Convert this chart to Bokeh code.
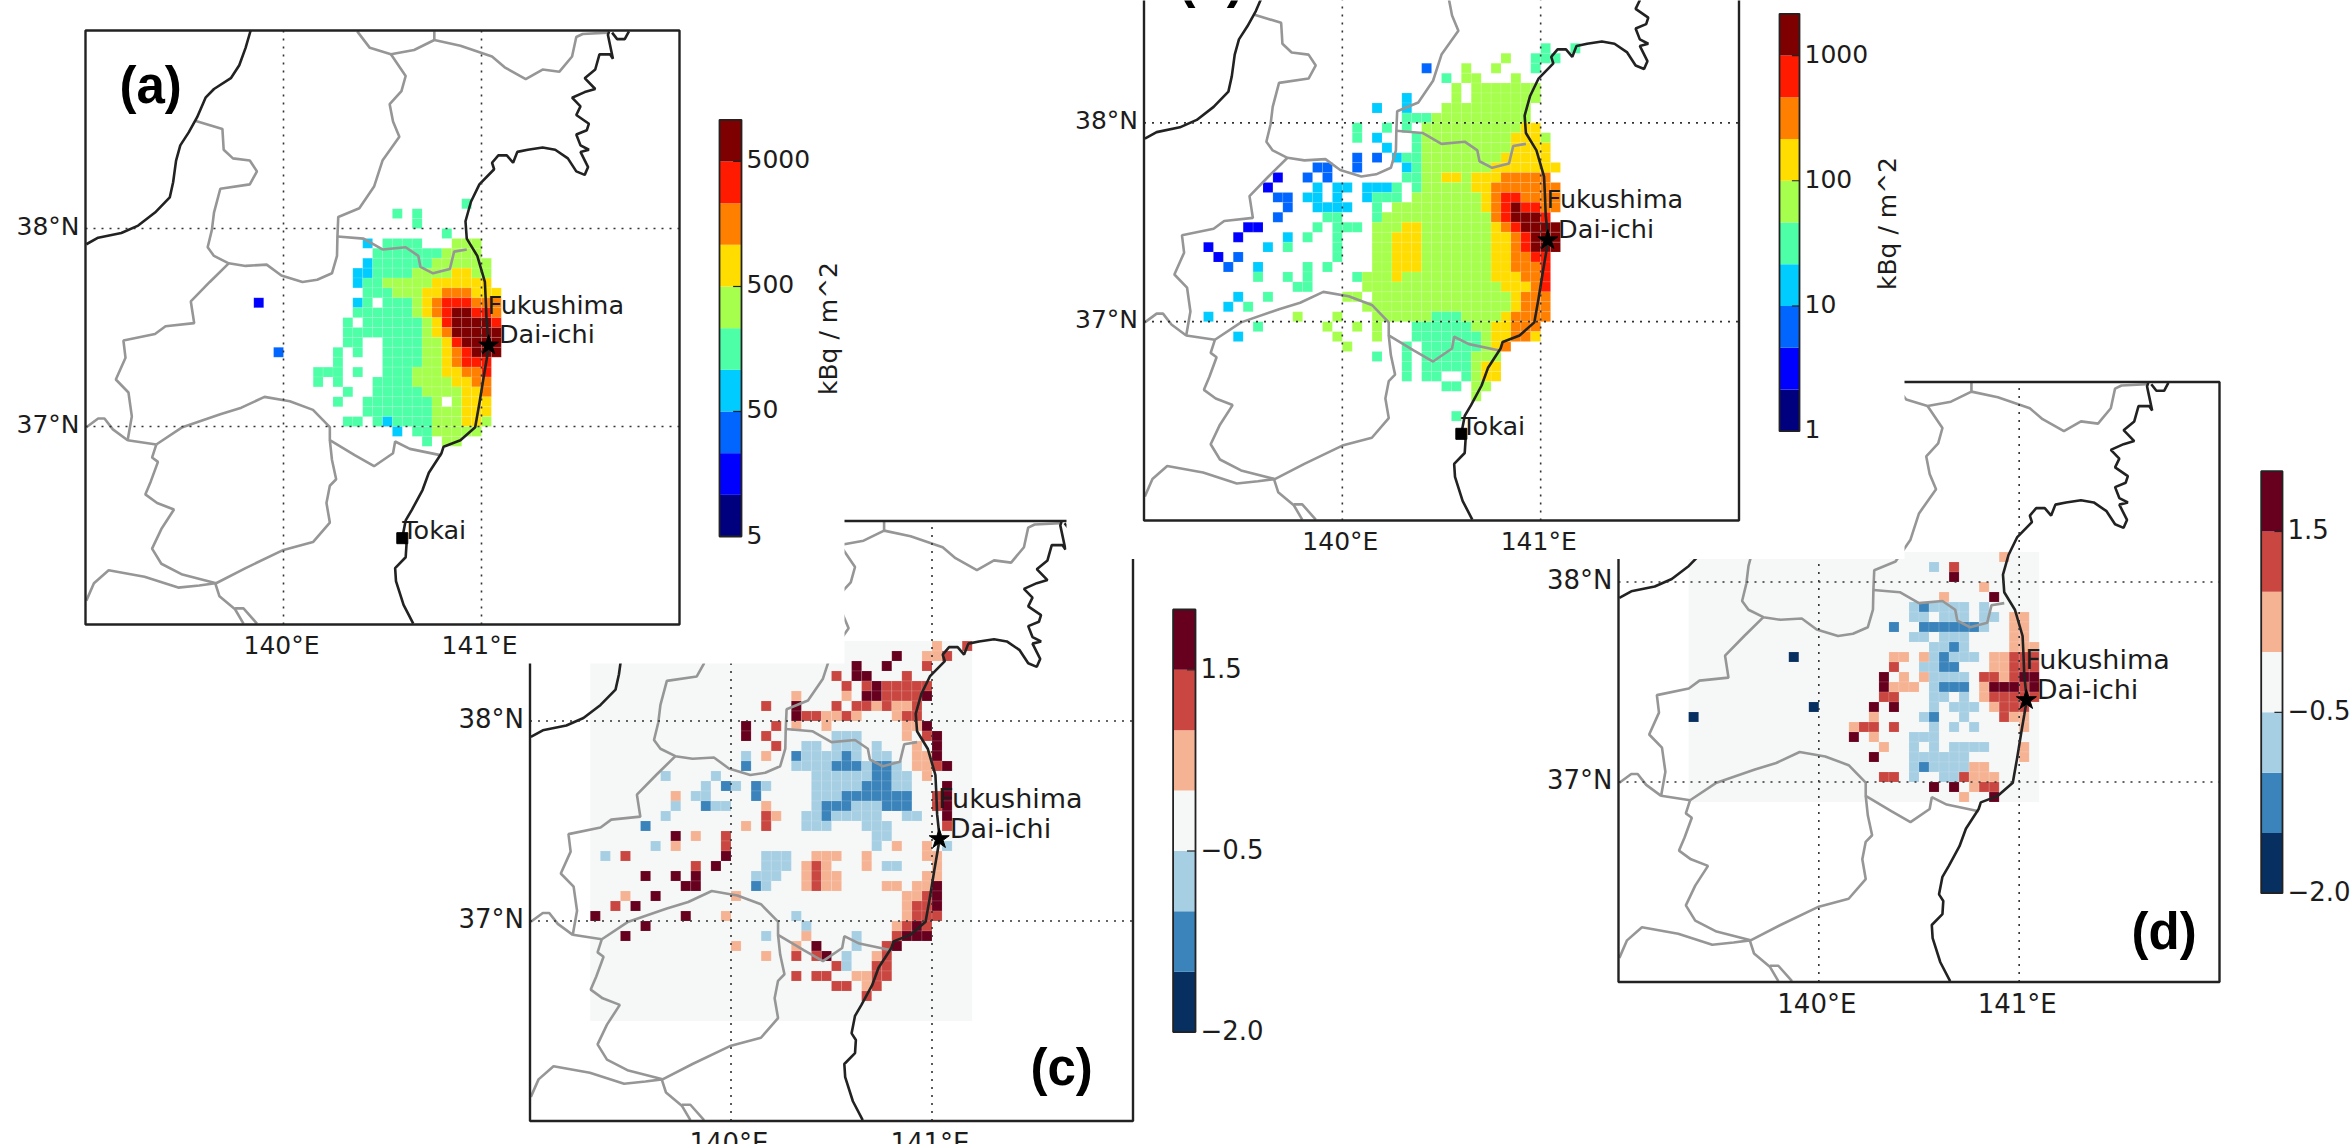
from math import pi
from bokeh.core.properties import value
from bokeh.embed import file_html
from bokeh.models import Range1d
from bokeh.plotting import figure
from bokeh.resources import INLINE

# ---------- data: grid cells, row index -> "column=level" runs ----------
# cell lon = 141 + 0.05*col, cell top lat = 38 - 0.05*row
DEPOSITION_A = {
    -3: "-2=4", -2: "-9=4 -7=4", -1: "-7=4", 0: "-4=4",
    1: "-12=3 -10..-7=4 -3..-1=5",
    2: "-11..-5=4 -4..-1=5",
    3: "-12=3 -11..-6=4 -5..0=5",
    4: "-13..-12=3 -11..-8=4 -7..-4=5 -3..-2=6 -1..0=5",
    5: "-13=3 -12..-11=4 -10..-6=5 -5..0=6",
    6: "-12..-10=4 -9..-7=5 -6..-5=6 -4..-2=7 -1..1=6",
    7: "-23=1 -13=3 -12=4 -10..-8=4 -7=5 -6=6 -5=7 -4..-2=8 -1..1=7",
    8: "-13..-8=4 -7=5 -6=6 -5=7 -4=8 -3..-2=9 -1..0=8 1=7",
    9: "-14=4 -12..-7=4 -6=5 -5=6 -4=8 -3..0=9 1=8",
    10: "-14..-7=4 -6=5 -5=6 -4=7 -3..1=9",
    11: "-14..-13=4 -10..-7=4 -6..-5=5 -4=6 -3=8 -2..1=9",
    12: "-21=2 -15=4 -13=4 -10..-7=4 -6..-5=5 -4=6 -3=7 -2=8 -1..1=9",
    13: "-15=4 -10..-7=4 -6..-5=5 -4=6 -3=7 -2..0=8",
    14: "-17..-15=4 -13=4 -10..-8=4 -7..-5=5 -4..-3=6 -2..-1=7 0=8",
    15: "-17=4 -15=4 -11..-8=4 -7..-4=5 -3..-2=6 -1..0=7",
    16: "-14=4 -11..-7=4 -6..-3=5 -2..-1=6 0=7",
    17: "-15=4 -12..-6=4 -5=5 -3=5 -2..0=6",
    18: "-12..-6=4 -5..-3=5 -2..0=6",
    19: "-14..-13=4 -11=4 -10=3 -9..-6=4 -5..-3=5 -2..-1=6 0=5",
    20: "-9=3 -7..-6=4 -5..-1=5",
    21: "-6=4 -4..-3=5",
}
DEPOSITION_B = {
    -8: "0=4 3=4",
    -7: "-4=5 -1..1=4",
    -6: "-12=2 -8=5 -5=5 -1=4",
    -5: "-10=4 -8..-7=5 -3=5",
    -4: "-9=5 -7..-1=5",
    -3: "-14=3 -9=5 -7..-1=5",
    -2: "-17=3 -14=3 -10..-2=5",
    -1: "-14..-12=4 -11..-2=5",
    0: "-19=4 -16=4 -14=4 -12..-3=5 -2..-1=6",
    1: "-19=4 -17=3 -13=4 -12..-4=5 -3..-1=6 0=5",
    2: "-16=3 -13=4 -12..-4=5 -3..0=6",
    3: "-19=2 -17=2 -15=3 -14..-13=4 -12..-5=5 -4..0=6",
    4: "-23..-22=2 -19=2 -14=3 -13=4 -12..-6=5 -5..1=6",
    5: "-27=1 -24=2 -22=2 -14..-13=4 -12..-11=5 -10..-9=6 -8=5 -7..-5=6 -4..0=7",
    6: "-28=1 -23=3 -21..-20=3 -18..-16=3 -15=4 -13=4 -12..-8=5 -7..-6=6 -5..1=7",
    7: "-27..-26=2 -24..-23=3 -21=3 -18=3 -17..-15=4 -13..-7=5 -6=6 -5=7 -4..-3=8 -2..1=7",
    8: "-26=2 -23..-20=3 -17=4 -15..-7=5 -6=6 -5=7 -4=8 -3=9 -2..-1=8 0..1=7",
    9: "-27=2 -22..-21=4 -17=4 -16..-6=5 -5=7 -4=8 -3..-1=9 0=8",
    10: "-30..-29=1 -23=4 -21..-19=4 -17..-15=5 -14..-13=6 -12..-6=5 -5=6 -4=7 -3=8 -2..1=9",
    11: "-31=1 -26=3 -24=4 -21=4 -17..-16=5 -15..-13=6 -12..-6=5 -5..-4=6 -3=7 -2=8 -1..1=9",
    12: "-34=1 -28=3 -26=4 -21=4 -17..-16=5 -15..-13=6 -12..-6=5 -5..-4=6 -3=7 -2=8 -1..1=9",
    13: "-33=1 -31=2 -21=4 -17..-16=5 -15..-13=6 -12..-6=5 -5..-4=6 -3..-2=7 -1..0=8",
    14: "-32=2 -29=3 -24=4 -22=4 -17..-16=5 -15..-13=6 -12..-6=5 -5..-4=6 -3..-1=7 0=8",
    15: "-29=4 -26=4 -24=4 -19=4 -18..-16=5 -15=6 -14..-6=5 -5..-3=6 -2..-1=7 0=8",
    16: "-25..-24=4 -18..-5=5 -4..-2=6 -1=7 0=8",
    17: "-31=3 -28=4 -20..-19=5 -17..-4=5 -3=6 -2..0=7",
    18: "-32=3 -30=4 -18..-4=5 -3=6 -2..0=7",
    19: "-34=3 -25=5 -21=5 -17..-12=5 -11..-9=4 -8..-5=5 -4=6 -3..0=7",
    20: "-29=4 -22=5 -19=5 -17=5 -13..-8=4 -7..-6=5 -5..-4=6 -3..-1=7",
    21: "-31=3 -21=5 -17=5 -13..-7=4 -6=5 -5..-4=6 -3..-2=7 -1=6",
    22: "-20=5 -14=4 -12..-7=4 -6=5 -5=6 -4=7",
    23: "-17=4 -14=4 -12..-8=4 -7..-5=5",
    24: "-14=4 -12..-8=4 -7=5 -6..-5=6",
    25: "-14=4 -12..-11=4 -8=4 -7=5 -6..-5=6",
    26: "-10..-9=4 -7..-6=5",
    27: "-7=5",
    29: "-9=4",
}
RATIO_C = {
    -8: "0=4 3=5",
    -7: "-4=6 -1..0=4 1=5",
    -6: "-8=6 -5=6 -1=5",
    -5: "-10=5 -8..-7=6 -3=5",
    -4: "-9=5 -7=5 -6=6 -5..-1=5",
    -3: "-14=4 -9=4 -7..-6=6 -5..-2=5 -1=6",
    -2: "-17=5 -14=6 -10=5 -8..-7=5 -6=4 -5=5 -4..-3=4 -2=5",
    -1: "-14=6 -13..-12=5 -11..-10=4 -9=5 -8=4 -4=4 -3..-2=5",
    0: "-19=6 -16=5 -14=4 -11=4 -3..-2=4 -1=6",
    1: "-19=6 -17=5 -10..-8=2 -3=4 -1=5 0=6",
    2: "-16=5 -13..-12=2 -10..-8=2 -6=2 -2=4 0=6",
    3: "-19=2 -17=4 -14=1 -13..-10=2 -9=1 -8=2 -6..-5=2 -2..-1=4 0=6",
    4: "-19=1 -14..-11=2 -10..-8=1 -7=2 -6..-5=1 -4=2 -2..-1=4 0=5 1=6",
    5: "-27=2 -22=2 -12..-7=2 -6..-5=1 -4..-3=2 -1=4",
    6: "-23=2 -21=1 -20=2 -18=1 -17=2 -12..-8=2 -7..-5=1 -4..-3=2 1=6",
    7: "-26=4 -24..-23=2 -18=1 -12..-10=2 -9..-3=1 0=5 1=6",
    8: "-26=2 -23=1 -22..-21=2 -17=4 -12=2 -11..-9=1 -8..-6=2 -5..-3=1 0=5 1=6",
    9: "-27=2 -17=5 -16=4 -13..-12=2 -11=1 -10..-6=2 -3..-2=2 1=6",
    10: "-29=1 -19=4 -17=5 -13..-11=2 -7..-5=2 1=5",
    11: "-26=6 -24=4 -21=5 -6..-5=2",
    12: "-28=2 -26=4 -21=5 -6=2 -4=4 -1=4 1=2",
    13: "-33=2 -31=5 -21=6 -17..-15=2 -12..-10=4 -7=4 -1..0=4",
    14: "-24=5 -22=6 -17..-15=2 -13=4 -12=5 -11=4 -7=4 -5..-4=2 0=4",
    15: "-29=6 -26=6 -24=6 -18..-16=2 -13=4 -12=5 -11..-10=4 -1..0=4",
    16: "-25..-24=6 -18=1 -17=2 -13=4 -12=5 -11..-10=4 -5..-4=4 -2..-1=4 0=6",
    17: "-31=4 -28=6 -20=4 -3..-2=4 -1=5 0=6",
    18: "-32=5 -30=6 -3=4 -2..-1=5 0=6",
    19: "-34=6 -25=6 -21=4 -14=2 -3=4 -2..0=5",
    20: "-29=6 -13=2 -4=4 -3=5 -2=6 -1=5",
    21: "-31=6 -17=2 -13=4 -8=2 -4=5 -3..-1=6",
    22: "-20=4 -14=4 -12=6 -8=2 -5=5 -4=6",
    23: "-17=4 -14=5 -12=5 -11=6 -9=2 -6=4 -5=5",
    24: "-10=5 -9=2 -6..-5=5",
    25: "-14=5 -12..-11=5 -8..-7=4 -6..-5=5",
    26: "-10..-9=5 -7=4 -6=5",
    27: "-7=5",
}
RATIO_D = {
    -3: "-2=4", -2: "-9=2 -7=5", -1: "-7=6", 0: "-4=4",
    1: "-8=4 -3=6",
    2: "-11=2 -10=1 -9..-6=2 -4=2",
    3: "-11..-10=2 -8..-6=2 -4..-3=2 -1..0=4",
    4: "-13=1 -10..-5=1 -4=2 -1..0=4",
    5: "-11..-10=2 -8..-6=2 -1..0=4",
    6: "-9..-8=2 -7=1 -6=2 -1..1=4",
    7: "-23=0 -13..-12=4 -10=4 -9=2 -8=1 -7..-5=2 -3..-2=4 -1..1=5",
    8: "-13=5 -10..-9=2 -8..-7=1 -3..-2=4 -1..1=5",
    9: "-14=6 -12=4 -10=4 -9..-6=2 -4..-3=5 -2=4 -1=5 0..1=6",
    10: "-14=6 -13..-11=4 -9=2 -8..-6=1 -4=4 -3..-1=6 0=5 1=6",
    11: "-14..-13=5 -9..-8=2 -6=2 -4=4 -3..1=5",
    12: "-21=0 -15=6 -13=6 -9=2 -7..-5=2 -3=4 -2..0=5",
    13: "-33=0 -15=4 -10=2 -9=1 -6=2 -2=5 -1..0=4",
    14: "-17=4 -16..-15=5 -13=5 -9=2 -7=2 -5=2 0=4",
    15: "-17=6 -15=4 -11..-9=2",
    16: "-14=4 -11=2 -9=2 -7..-4=2 0=4",
    17: "-15=6 -11..-6=2 0=4",
    18: "-11=2 -10=1 -9..-6=2 -5..-4=4",
    19: "-14..-13=5 -11=2 -8..-7=2 -6=5 -5..-3=4",
    20: "-9=6 -7=6 -5=4 -4..-3=5",
    21: "-6=4 -3=6",
}

JET_COLORS = ["#00007f", "#0000ff", "#0066ff", "#00ccff", "#4dffa6",
              "#a6ff4d", "#ffdd00", "#ff7f00", "#ff1a00", "#7f0000"]
RDBU_COLORS = ["#072f60", "#3a84bb", "#a7cfe4", "#f6f7f7", "#f6b394", "#ca4741", "#67001f"]

TICKS_A = [0, 3, 6, 9]
TICK_LABELS_A = ["5", "50", "500", "5000"]
TICKS_B = [0, 3, 6, 9]
TICK_LABELS_B = ["1", "10", "100", "1000"]
TICKS_RATIO = [0, 3, 6]
TICK_LABELS_RATIO = ["\u22122.0", "\u22120.5", "1.5"]

UNIT_LABEL = "kBq / m^2"
LON_TICKS = [140, 141]
LAT_TICKS = [38, 37]
FUKUSHIMA = (141.036, 37.41)
TOKAI = (140.6, 36.436)

# base map, traced on a sheet: lon = 139 + (sx-60)/470, lat = 39 - (sy-70)/456.7
COAST = [
    [(452,70),(440,110),(425,150),(405,180),(365,205),(345,225),(325,270),(305,305),(285,335),(275,370),(268,420),
     (260,455),(225,490),(185,520),(145,537),(90,548),(62,563)],
    [(838,1438),(815,1395),(797,1340),(795,1310),(820,1285),(822,1255),(812,1240),(820,1200),(835,1175),(860,1130),
     (875,1090),(905,1045),(910,1030),(950,1015),(985,985),(995,930),(1005,870),(1012,830),(1018,795),(1012,740),
     (1010,690),(1008,650),(990,590),(965,550),(962,510),(975,465),(995,425),(1030,390),(1025,375),(1040,358),
     (1060,358),(1075,375),(1085,350),(1110,345),(1145,340),(1175,345),(1205,365),(1215,380),(1225,395),(1245,403),
     (1253,385),(1235,350),(1255,345),(1235,335),(1225,310),(1250,300),(1255,285),(1225,265),(1235,245),(1215,225),
     (1245,212),(1270,205),(1245,180),(1270,160),(1280,125),(1305,125),(1312,135),(1300,80),(1303,72)],
    [(1310,75),(1322,90),(1340,90),(1350,72)],
]
BORDERS = [
    [(320,278),(385,297),(388,345),(410,365),(450,370),(467,395),(450,425),(380,435),(365,490),(360,530),(350,570),
     (365,590),(400,607),(440,613),(490,610),(525,635),(575,650),(610,645),(645,630),(657,590),(658,545),(660,500),
     (710,480),(745,430),(765,370),(805,315),(790,280),(782,240),(810,210),(820,175),(785,125)],
    [(705,72),(735,110),(785,125),(840,115),(888,92),(950,105),(1025,130),(1055,155),(1105,182),(1145,160),(1185,165),
     (1215,130),(1225,85),(1240,78),(1300,75)],
    [(888,72),(888,92)],
    [(658,545),(720,550),(765,575),(820,570),(850,590),(855,615),(885,630),(925,620),(935,580),(965,575)],
    [(400,607),(355,650),(310,695),(318,745),(250,752),(225,770),(150,785),(155,825),(132,875),(162,905),(170,960),
     (160,1015),(228,1025)],
    [(62,985),(90,965),(105,965),(125,990),(160,1015)],
    [(228,1025),(290,985),(380,955),(430,940),(485,915),(545,925),(600,945),(640,985),(640,1015),(700,1050),(745,1075),
     (790,1045),(795,1018),(830,1035),(905,1050)],
    [(228,1025),(218,1055),(232,1065),(215,1110),(202,1140),(230,1160),(270,1175),(240,1220),(218,1265),(240,1300),
     (290,1325),(370,1345),(440,1310),(530,1268),(600,1250),(640,1205),(632,1160),(640,1120),(655,1105),(645,1060),(640,1015)],
    [(62,1385),(80,1345),(115,1315),(200,1330),(280,1355),(330,1350),(368,1345),(378,1375),(415,1405),(435,1438)],
    [(415,1403),(435,1403),(467,1438)],
]

# ---------- layout (page pixels) ----------
W, H = 2350, 1144
M = 0
TXT = "#1c1c1c"
FONT = value("DejaVu Sans")
BOLD = value("Liberation Sans")


def span(p0, p1, v0, v1, c0, c1):
    k = (v1 - v0) / (p1 - p0)
    return Range1d(start=v0 + (c0 - p0) * k, end=v0 + (c1 - p0) * k)


p = figure(width=W, height=H, x_range=Range1d(0, W), y_range=Range1d(H, 0), toolbar_location=None,
           output_backend="svg", min_border=0, outline_line_color=None)
p.xaxis.visible = False
p.yaxis.visible = False
p.xgrid.visible = False
p.ygrid.visible = False


def sheet(line):
    return ([139 + (sx - 60) / 470 for sx, _ in line], [39 - (sy - 70) / 456.7 for _, sy in line])


def cells(rows):
    out = []
    for r, txt in rows.items():
        for tok in txt.split():
            cols, lev = tok.split("=")
            if ".." in cols:
                a, b = cols.split("..")
            else:
                a = b = cols
            for i in range(int(a), int(b) + 1):
                out.append((i, r, int(lev)))
    return out


def panel(name, box, rows, colors, font, note_font, label, label_pos, pale=None, tokai=False):
    L, R, T, B = box
    p.extra_x_ranges[name] = span(L, R, 139, 142, M, M + W)
    p.extra_y_ranges[name] = span(B, T, 36, 39, M + H, M)
    kw = dict(x_range_name=name, y_range_name=name)
    fs = f"{font}px"
    p.quad(left=[139], right=[142], bottom=[36], top=[39], fill_color="white", line_color=None, **kw)
    if pale:
        p.quad(left=[pale[0]], right=[pale[1]], bottom=[pale[2]], top=[pale[3]], fill_color=colors[3],
               line_color=None, **kw)
    c = cells(rows)
    p.quad(left=[141 + .05 * i for i, r, l in c], right=[141 + .05 * (i + 1) for i, r, l in c],
           top=[38 - .05 * r for i, r, l in c], bottom=[38 - .05 * (r + 1) for i, r, l in c],
           fill_color=[colors[l] for i, r, l in c], line_color="white", line_alpha=0.14, line_width=0.8, **kw)
    for line in BORDERS:
        xs, ys = sheet(line)
        p.line(xs, ys, line_color="#969696", line_width=2.6, **kw)
    for line in COAST:
        xs, ys = sheet(line)
        p.line(xs, ys, line_color="#222222", line_width=2.6, **kw)
    for lon in LON_TICKS:
        p.line([lon, lon], [36, 39], line_color="#333333", line_width=1.6, line_dash="2 6", **kw)
    for lat in LAT_TICKS:
        p.line([139, 142], [lat, lat], line_color="#333333", line_width=1.6, line_dash="2 6", **kw)
    p.quad(left=[139], right=[142], bottom=[36], top=[39], fill_color=None, line_color="#222222", line_width=2.4, **kw)
    p.text(x=LON_TICKS, y=[36] * 2, text=[f"{v}°E" for v in LON_TICKS], text_font=FONT, text_font_size=fs,
           text_color=TXT, text_align="center", text_baseline="alphabetic", x_offset=-2, y_offset=font - 4, **kw)
    p.text(x=[139] * 2, y=LAT_TICKS, text=[f"{v}°N" for v in LAT_TICKS], text_font=FONT, text_font_size=fs,
           text_color=TXT, text_align="right", text_baseline="alphabetic", x_offset=-6, y_offset=-2, **kw)
    p.scatter([FUKUSHIMA[0]], [FUKUSHIMA[1]], marker="star", size=21, fill_color="black", line_color="black", **kw)
    p.text(x=[141.03, 141.088], y=[37.575, 37.425], text=["Fukushima", "Dai-ichi"], text_font=FONT,
           text_font_size=f"{note_font}px", text_color=TXT, text_baseline="alphabetic", y_offset=-8, **kw)
    if tokai:
        p.scatter([TOKAI[0]], [TOKAI[1]], marker="square", size=11, fill_color="black", line_color="black", **kw)
        p.text(x=[TOKAI[0]], y=[TOKAI[1]], text=["Tokai"], text_font=FONT, text_font_size=f"{note_font}px",
               text_color=TXT, text_baseline="alphabetic", y_offset=-8, **kw)
    p.text(x=[label_pos[0] - M], y=[label_pos[1] - M], text=[label], text_font=BOLD, text_font_style="bold",
           text_font_size="51px", text_color="black", text_baseline="alphabetic", y_offset=-15)


def colorbar(name, box, colors, ticks, labels, font, unit=None):
    L, R, T, B = box
    n = len(colors)
    p.extra_x_ranges[name] = span(L, R, 0, 1, M, M + W)
    p.extra_y_ranges[name] = span(B, T, 0, n, M + H, M)
    kw = dict(x_range_name=name, y_range_name=name)
    p.quad(left=[0] * n, right=[1] * n, bottom=list(range(n)), top=list(range(1, n + 1)), fill_color=colors,
           line_color=None, **kw)
    p.quad(left=[0], right=[1], bottom=[0], top=[n], fill_color=None, line_color="#222222", line_width=1.8, **kw)
    for t in ticks[1:]:
        p.line([0.62, 1], [t, t], line_color="#222222", line_width=1.2, **kw)
    p.text(x=[1] * len(ticks), y=ticks, text=labels, text_font=FONT, text_font_size=f"{font}px", text_color=TXT,
           text_baseline="alphabetic", x_offset=5, y_offset=-2, **kw)
    if unit:
        p.text(x=[unit[0] - M], y=[unit[1] - M], text=[UNIT_LABEL], text_font=FONT, text_font_size=f"{font}px",
               text_color=TXT, text_align="center", text_baseline="middle", angle=pi / 2)


# panels c and d lie under the white backgrounds of panels a and b
panel("c", (529.5, 1132.5, 520.5, 1120.5), RATIO_C, RDBU_COLORS, 26, 27, "(c)", (1030, 1082), pale=(139.3, 141.2, 36.5, 38.4))
panel("d", (1618, 2219, 381.5, 981.5), RATIO_D, RDBU_COLORS, 26, 27, "(d)", (2131, 945.5), pale=(139.35, 141.1, 36.9, 38.15))
p.quad(left=[0, 1066 - M], right=[844 - M, 1904 - M], top=[0, 0], bottom=[663 - M, 558.5 - M], fill_color="white",
       line_color=None)
panel("a", (85, 679, 30, 624), DEPOSITION_A, JET_COLORS, 25, 25.5, "(a)", (119, 100), tokai=True)
panel("b", (1143.5, 1738.5, -76.5, 520), DEPOSITION_B, JET_COLORS, 25, 25.5, "(b)", (1178, -6), tokai=True)

colorbar("cba", (719, 741, 119.3, 536), JET_COLORS, TICKS_A, TICK_LABELS_A, 25, unit=(828, 328))
colorbar("cbb", (1779, 1799, 13.3, 430.7), JET_COLORS, TICKS_B, TICK_LABELS_B, 25, unit=(1887, 223))
colorbar("cbc", (1172.6, 1195, 609, 1031.6), RDBU_COLORS, TICKS_RATIO, TICK_LABELS_RATIO, 26)
colorbar("cbd", (2260.7, 2282, 470.7, 892.7), RDBU_COLORS, TICKS_RATIO, TICK_LABELS_RATIO, 26)

open("out.html", "w").write(file_html(p, INLINE))
